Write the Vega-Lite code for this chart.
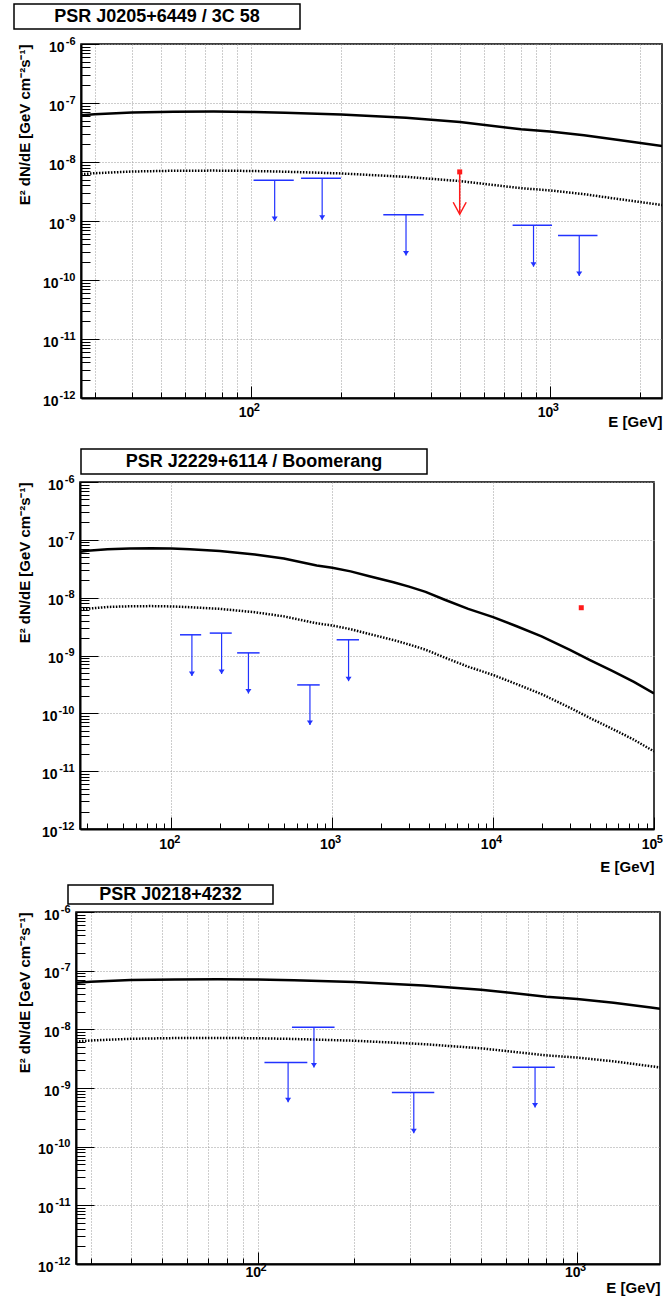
{
  "$schema": "https://vega.github.io/schema/vega-lite/v6.json",
  "padding": {"left": 13, "top": 3, "right": 0, "bottom": 0},
  "background": "white",
  "config": {
    "font": "Liberation Sans",
    "axis": {
      "labelFont": "Liberation Sans", "titleFont": "Liberation Sans",
      "labelFontSize": 14, "labelFontWeight": "bold", "labelColor": "black",
      "titleFontSize": 15, "titleFontWeight": "bold", "titleColor": "black",
      "domainColor": "black", "domainWidth": 2,
      "tickColor": "black", "tickWidth": 1,
      "gridColor": "#9a9a9a", "gridDash": [1, 2], "gridWidth": 1,
      "labelOverlap": false, "labelFlush": false
    }
  },
  "datasets": {
    "curve": [
      {"E": 27, "F": 6.2e-8, "Fd": 6.2e-9},
      {"E": 30, "F": 6.45e-8, "Fd": 6.45e-9},
      {"E": 40, "F": 6.9e-8, "Fd": 6.9e-9},
      {"E": 55, "F": 7.1e-8, "Fd": 7.1e-9},
      {"E": 75, "F": 7.15e-8, "Fd": 7.15e-9},
      {"E": 100, "F": 7.05e-8, "Fd": 7.05e-9},
      {"E": 130, "F": 6.85e-8, "Fd": 6.85e-9},
      {"E": 200, "F": 6.4e-8, "Fd": 6.4e-9},
      {"E": 330, "F": 5.6e-8, "Fd": 5.6e-9},
      {"E": 500, "F": 4.75e-8, "Fd": 4.75e-9},
      {"E": 800, "F": 3.6e-8, "Fd": 3.6e-9},
      {"E": 1000, "F": 3.3e-8, "Fd": 3.3e-9},
      {"E": 1300, "F": 2.85e-8, "Fd": 2.85e-9},
      {"E": 1700, "F": 2.35e-8, "Fd": 2.35e-9},
      {"E": 2400, "F": 1.85e-8, "Fd": 1.85e-9},
      {"E": 3000, "F": 1.55e-8, "Fd": 1.55e-9},
      {"E": 3800, "F": 1.26e-8, "Fd": 1.26e-9},
      {"E": 5000, "F": 9.2e-9, "Fd": 9.2e-10},
      {"E": 7000, "F": 6.4e-9, "Fd": 6.4e-10},
      {"E": 10000, "F": 4.6e-9, "Fd": 4.6e-10},
      {"E": 14000, "F": 3.2e-9, "Fd": 3.2e-10},
      {"E": 20000, "F": 2.15e-9, "Fd": 2.15e-10},
      {"E": 30000, "F": 1.25e-9, "Fd": 1.25e-10},
      {"E": 40000, "F": 8.3e-10, "Fd": 8.3e-11},
      {"E": 55000, "F": 5.4e-10, "Fd": 5.4e-11},
      {"E": 75000, "F": 3.5e-10, "Fd": 3.5e-11},
      {"E": 100000, "F": 2.2e-10, "Fd": 2.2e-11}
    ],
    "ul": [
      {"panel": 1, "E": 120, "lo": 102, "hi": 139, "ul": 4.9e-9, "tip": 1.0e-9},
      {"panel": 1, "E": 173, "lo": 147, "hi": 200, "ul": 5.3e-9, "tip": 1.05e-9},
      {"panel": 1, "E": 330, "lo": 277, "hi": 378, "ul": 1.28e-9, "tip": 2.6e-10},
      {"panel": 1, "E": 881, "lo": 750, "hi": 1016, "ul": 8.45e-10, "tip": 1.68e-10},
      {"panel": 1, "E": 1253, "lo": 1064, "hi": 1442, "ul": 5.7e-10, "tip": 1.17e-10},
      {"panel": 2, "E": 134, "lo": 113, "hi": 153, "ul": 2.28e-9, "tip": 4.4e-10},
      {"panel": 2, "E": 205, "lo": 173, "hi": 237, "ul": 2.44e-9, "tip": 4.8e-10},
      {"panel": 2, "E": 301, "lo": 256, "hi": 353, "ul": 1.11e-9, "tip": 2.2e-10},
      {"panel": 2, "E": 726, "lo": 605, "hi": 835, "ul": 3.1e-10, "tip": 6.3e-11},
      {"panel": 2, "E": 1262, "lo": 1064, "hi": 1466, "ul": 1.87e-9, "tip": 3.6e-10},
      {"panel": 3, "E": 124.5, "lo": 105, "hi": 143, "ul": 2.72e-9, "tip": 5.7e-10},
      {"panel": 3, "E": 150, "lo": 128, "hi": 174, "ul": 1.09e-8, "tip": 2.24e-9},
      {"panel": 3, "E": 308, "lo": 263, "hi": 357, "ul": 8.4e-10, "tip": 1.7e-10},
      {"panel": 3, "E": 738, "lo": 627, "hi": 851, "ul": 2.26e-9, "tip": 4.65e-10}
    ],
    "red": [
      {"panel": 1, "E": 499, "F": 6.8e-9, "tip": 1.3e-9},
      {"panel": 2, "E": 35300, "F": 6.7e-9, "tip": null}
    ]
  },
  "vconcat": [
    {
      "vconcat": [
        {
          "vconcat": [
            {
              "width": 286, "height": 25,
              "view": {"stroke": "black", "strokeWidth": 1.5},
              "data": {"values": [{"t": "PSR J0205+6449 / 3C 58"}]},
              "mark": {"type": "text", "font": "Liberation Sans", "fontWeight": "bold", "fontSize": 18, "color": "black"},
              "encoding": {"text": {"field": "t"}}
            },
            {
              "hconcat": [
                {"width": 1, "height": 10, "view": {"stroke": "white", "fill": "white"}, "data": {"values": []}, "mark": "text", "encoding": {}},
                {
                  "width": 581, "height": 354,
                  "view": {"stroke": "black", "strokeWidth": 1.5},
                  "resolve": {"axis": {"x": "independent", "y": "independent"}},
                  "layer": [
                    {
                      "data": {"name": "curve"},
                      "mark": {"type": "line", "color": "black", "strokeWidth": 2.5, "clip": true},
                      "encoding": {
                        "x": {"field": "E", "type": "quantitative",
                          "scale": {"type": "log", "domain": [27, 2370], "nice": false},
                          "axis": {
                            "orient": "bottom", "title": "E [GeV]",
                            "values": [30,40,50,60,70,80,90,100,200,300,400,500,600,700,800,900,1000,2000],
                            "labelExpr": "datum.value == 100 || datum.value == 1000 ? '10' : ''",
                            "tickSize": {"condition": {"test": "datum.value == 100 || datum.value == 1000", "value": -12}, "value": -6},
                            "grid": true, "labelPadding": 26.5, "labelBaseline": "middle", "labelOffset": -5,
                            "titleAnchor": "end", "titlePadding": -11
                          }},
                        "y": {"field": "F", "type": "quantitative",
                          "scale": {"type": "log", "domain": [1e-12, 1e-6], "nice": false},
                          "axis": {
                            "orient": "left", "title": "E² dN/dE [GeV cm⁻²s⁻¹]",
                            "values": [1e-12,2e-12,3e-12,4e-12,5e-12,6e-12,7e-12,8e-12,9e-12,1e-11,2e-11,3e-11,4e-11,5e-11,6e-11,7e-11,8e-11,9e-11,1e-10,2e-10,3e-10,4e-10,5e-10,6e-10,7e-10,8e-10,9e-10,1e-9,2e-9,3e-9,4e-9,5e-9,6e-9,7e-9,8e-9,9e-9,1e-8,2e-8,3e-8,4e-8,5e-8,6e-8,7e-8,8e-8,9e-8,1e-7,2e-7,3e-7,4e-7,5e-7,6e-7,7e-7,8e-7,9e-7,1e-6],
                            "labelExpr": "datum.value == 1e-6 || datum.value == 1e-7 || datum.value == 1e-8 || datum.value == 1e-9 || datum.value == 1e-10 || datum.value == 1e-11 || datum.value == 1e-12 ? '10' : ''",
                            "tickSize": {"condition": {"test": "datum.value == 1e-6 || datum.value == 1e-7 || datum.value == 1e-8 || datum.value == 1e-9 || datum.value == 1e-10 || datum.value == 1e-11 || datum.value == 1e-12", "value": -18}, "value": -9},
                            "grid": true,
                            "gridOpacity": {"condition": {"test": "datum.value == 1e-6 || datum.value == 1e-7 || datum.value == 1e-8 || datum.value == 1e-9 || datum.value == 1e-10 || datum.value == 1e-11 || datum.value == 1e-12", "value": 1}, "value": 0},
                            "labelPadding": {"condition": {"test": "datum.value < 1.5e-10", "value": 41}, "value": 35},
                            "labelOffset": 3, "labelBaseline": "middle",
                            "titleAnchor": "end", "titlePadding": 10
                          }}
                      }
                    },
                    {
                      "data": {"name": "curve"},
                      "mark": {"type": "line", "color": "black", "strokeWidth": 2.5, "strokeDash": [1.5, 1.5], "clip": true},
                      "encoding": {
                        "x": {"field": "E", "type": "quantitative",
                          "axis": {"orient": "bottom", "title": null, "values": [100, 1000],
                            "labelExpr": "datum.value == 100 ? '2' : '3'",
                            "ticks": false, "domain": false, "grid": false,
                            "labelFontSize": 11, "labelAlign": "left", "labelOffset": 2.3, "labelPadding": 9.4, "labelBaseline": "middle"}},
                        "y": {"field": "Fd", "type": "quantitative",
                          "axis": {"orient": "left", "title": null, "values": [1e-12,1e-11,1e-10,1e-9,1e-8,1e-7,1e-6],
                            "labelExpr": "datum.value == 1e-6 ? '-6' : datum.value == 1e-7 ? '-7' : datum.value == 1e-8 ? '-8' : datum.value == 1e-9 ? '-9' : datum.value == 1e-10 ? '-10' : datum.value == 1e-11 ? '-11' : '-12'",
                            "ticks": false, "domain": false, "grid": false,
                            "labelFontSize": 11, "labelAlign": "right", "labelOffset": -3, "labelPadding": 6, "labelBaseline": "middle"}}
                      }
                    },
                    {
                      "data": {"name": "ul"},
                      "transform": [{"filter": "datum.panel == 1"}],
                      "mark": {"type": "rule", "color": "#2233ff", "strokeWidth": 1.5},
                      "encoding": {
                        "x": {"field": "lo", "type": "quantitative", "axis": null},
                        "x2": {"field": "hi"},
                        "y": {"field": "ul", "type": "quantitative", "axis": null}
                      }
                    },
                    {
                      "data": {"name": "ul"},
                      "transform": [{"filter": "datum.panel == 1"}],
                      "mark": {"type": "rule", "color": "#2233ff", "strokeWidth": 1.2},
                      "encoding": {
                        "x": {"field": "E", "type": "quantitative", "axis": null},
                        "y": {"field": "ul", "type": "quantitative", "axis": null},
                        "y2": {"field": "tip"}
                      }
                    },
                    {
                      "data": {"name": "ul"},
                      "transform": [{"filter": "datum.panel == 1"}],
                      "mark": {"type": "point", "shape": "M-1,-1.5L1,-1.5L0,0Z", "filled": true, "color": "#2233ff", "size": 36, "opacity": 1},
                      "encoding": {
                        "x": {"field": "E", "type": "quantitative", "axis": null},
                        "y": {"field": "tip", "type": "quantitative", "axis": null}
                      }
                    },
                    {
                      "data": {"name": "red"},
                      "transform": [{"filter": "datum.panel == 1"}],
                      "mark": {"type": "rule", "color": "#ff1a1a", "strokeWidth": 1.5},
                      "encoding": {
                        "x": {"field": "E", "type": "quantitative", "axis": null},
                        "y": {"field": "F", "type": "quantitative", "axis": null},
                        "y2": {"field": "tip"}
                      }
                    },
                    {
                      "data": {"name": "red"},
                      "transform": [{"filter": "datum.panel == 1"}],
                      "mark": {"type": "point", "shape": "M-1,-1.85L0,0L1,-1.85", "filled": false, "color": "#ff1a1a", "strokeWidth": 1.5, "size": 169, "opacity": 1},
                      "encoding": {
                        "x": {"field": "E", "type": "quantitative", "axis": null},
                        "y": {"field": "tip", "type": "quantitative", "axis": null}
                      }
                    },
                    {
                      "data": {"name": "red"},
                      "transform": [{"filter": "datum.panel == 1"}],
                      "mark": {"type": "point", "shape": "square", "filled": true, "color": "#ff1a1a", "size": 25, "opacity": 1},
                      "encoding": {
                        "x": {"field": "E", "type": "quantitative", "axis": null},
                        "y": {"field": "F", "type": "quantitative", "axis": null}
                      }
                    }
                  ]
                }
              ],
              "spacing": 0
            }
          ],
          "spacing": 4
        },
        {
          "vconcat": [
            {
              "hconcat": [
                {"width": 65, "height": 25, "view": {"stroke": "white", "fill": "white"}, "data": {"values": []}, "mark": "text", "encoding": {}},
                {
                  "width": 346, "height": 25,
                  "view": {"stroke": "black", "strokeWidth": 1.5},
                  "data": {"values": [{"t": "PSR J2229+6114 / Boomerang"}]},
                  "mark": {"type": "text", "font": "Liberation Sans", "fontWeight": "bold", "fontSize": 18, "color": "black"},
                  "encoding": {"text": {"field": "t"}}
                }
              ],
              "spacing": 0
            },
            {
              "hconcat": [
                {"width": 1, "height": 10, "view": {"stroke": "white", "fill": "white"}, "data": {"values": []}, "mark": "text", "encoding": {}},
                {
                  "width": 574, "height": 347,
                  "view": {"stroke": "black", "strokeWidth": 1.5},
                  "resolve": {"axis": {"x": "independent", "y": "independent"}},
                  "layer": [
                    {
                      "data": {"name": "curve"},
                      "mark": {"type": "line", "color": "black", "strokeWidth": 2.5, "clip": true},
                      "encoding": {
                        "x": {"field": "E", "type": "quantitative",
                          "scale": {"type": "log", "domain": [27, 100000], "nice": false},
                          "axis": {
                            "orient": "bottom", "title": "E [GeV]",
                            "values": [30,40,50,60,70,80,90,100,200,300,400,500,600,700,800,900,1000,2000,3000,4000,5000,6000,7000,8000,9000,10000,20000,30000,40000,50000,60000,70000,80000,90000,100000],
                            "labelExpr": "datum.value == 100 || datum.value == 1000 || datum.value == 10000 || datum.value == 100000 ? '10' : ''",
                            "tickSize": {"condition": {"test": "datum.value == 100 || datum.value == 1000 || datum.value == 10000 || datum.value == 100000", "value": -12}, "value": -6},
                            "grid": true,
                            "gridOpacity": {"condition": {"test": "datum.value == 100 || datum.value == 1000 || datum.value == 10000", "value": 1}, "value": 0},
                            "labelPadding": 27.5, "labelBaseline": "middle", "labelOffset": -5,
                            "titleAnchor": "end", "titlePadding": 2
                          }},
                        "y": {"field": "F", "type": "quantitative",
                          "scale": {"type": "log", "domain": [1e-12, 1e-6], "nice": false},
                          "axis": {
                            "orient": "left", "title": "E² dN/dE [GeV cm⁻²s⁻¹]",
                            "values": [1e-12,2e-12,3e-12,4e-12,5e-12,6e-12,7e-12,8e-12,9e-12,1e-11,2e-11,3e-11,4e-11,5e-11,6e-11,7e-11,8e-11,9e-11,1e-10,2e-10,3e-10,4e-10,5e-10,6e-10,7e-10,8e-10,9e-10,1e-9,2e-9,3e-9,4e-9,5e-9,6e-9,7e-9,8e-9,9e-9,1e-8,2e-8,3e-8,4e-8,5e-8,6e-8,7e-8,8e-8,9e-8,1e-7,2e-7,3e-7,4e-7,5e-7,6e-7,7e-7,8e-7,9e-7,1e-6],
                            "labelExpr": "datum.value == 1e-6 || datum.value == 1e-7 || datum.value == 1e-8 || datum.value == 1e-9 || datum.value == 1e-10 || datum.value == 1e-11 || datum.value == 1e-12 ? '10' : ''",
                            "tickSize": {"condition": {"test": "datum.value == 1e-6 || datum.value == 1e-7 || datum.value == 1e-8 || datum.value == 1e-9 || datum.value == 1e-10 || datum.value == 1e-11 || datum.value == 1e-12", "value": -18}, "value": -9},
                            "grid": true,
                            "gridOpacity": {"condition": {"test": "datum.value == 1e-6 || datum.value == 1e-7 || datum.value == 1e-8 || datum.value == 1e-9 || datum.value == 1e-10 || datum.value == 1e-11 || datum.value == 1e-12", "value": 1}, "value": 0},
                            "labelPadding": {"condition": {"test": "datum.value < 1.5e-10", "value": 41}, "value": 35},
                            "labelOffset": 3, "labelBaseline": "middle",
                            "titleAnchor": "end", "titlePadding": 9
                          }}
                      }
                    },
                    {
                      "data": {"name": "curve"},
                      "mark": {"type": "line", "color": "black", "strokeWidth": 2.5, "strokeDash": [1.5, 1.5], "clip": true},
                      "encoding": {
                        "x": {"field": "E", "type": "quantitative",
                          "axis": {"orient": "bottom", "title": null, "values": [100, 1000, 10000, 100000],
                            "labelExpr": "datum.value == 100 ? '2' : datum.value == 1000 ? '3' : datum.value == 10000 ? '4' : '5'",
                            "ticks": false, "domain": false, "grid": false,
                            "labelFontSize": 11, "labelAlign": "left", "labelOffset": 2.3, "labelPadding": 10.5, "labelBaseline": "middle"}},
                        "y": {"field": "Fd", "type": "quantitative",
                          "axis": {"orient": "left", "title": null, "values": [1e-12,1e-11,1e-10,1e-9,1e-8,1e-7,1e-6],
                            "labelExpr": "datum.value == 1e-6 ? '-6' : datum.value == 1e-7 ? '-7' : datum.value == 1e-8 ? '-8' : datum.value == 1e-9 ? '-9' : datum.value == 1e-10 ? '-10' : datum.value == 1e-11 ? '-11' : '-12'",
                            "ticks": false, "domain": false, "grid": false,
                            "labelFontSize": 11, "labelAlign": "right", "labelOffset": -3, "labelPadding": 6, "labelBaseline": "middle"}}
                      }
                    },
                    {
                      "data": {"name": "ul"},
                      "transform": [{"filter": "datum.panel == 2"}],
                      "mark": {"type": "rule", "color": "#2233ff", "strokeWidth": 1.5},
                      "encoding": {
                        "x": {"field": "lo", "type": "quantitative", "axis": null},
                        "x2": {"field": "hi"},
                        "y": {"field": "ul", "type": "quantitative", "axis": null}
                      }
                    },
                    {
                      "data": {"name": "ul"},
                      "transform": [{"filter": "datum.panel == 2"}],
                      "mark": {"type": "rule", "color": "#2233ff", "strokeWidth": 1.2},
                      "encoding": {
                        "x": {"field": "E", "type": "quantitative", "axis": null},
                        "y": {"field": "ul", "type": "quantitative", "axis": null},
                        "y2": {"field": "tip"}
                      }
                    },
                    {
                      "data": {"name": "ul"},
                      "transform": [{"filter": "datum.panel == 2"}],
                      "mark": {"type": "point", "shape": "M-1,-1.5L1,-1.5L0,0Z", "filled": true, "color": "#2233ff", "size": 36, "opacity": 1},
                      "encoding": {
                        "x": {"field": "E", "type": "quantitative", "axis": null},
                        "y": {"field": "tip", "type": "quantitative", "axis": null}
                      }
                    },
                    {
                      "data": {"name": "red"},
                      "transform": [{"filter": "datum.panel == 2"}],
                      "mark": {"type": "point", "shape": "square", "filled": true, "color": "#ff1a1a", "size": 25, "opacity": 1},
                      "encoding": {
                        "x": {"field": "E", "type": "quantitative", "axis": null},
                        "y": {"field": "F", "type": "quantitative", "axis": null}
                      }
                    }
                  ]
                }
              ],
              "spacing": 0
            }
          ],
          "spacing": -3
        }
      ],
      "spacing": 17
    },
    {
      "vconcat": [
        {
          "hconcat": [
            {"width": 52, "height": 19, "view": {"stroke": "white", "fill": "white"}, "data": {"values": []}, "mark": "text", "encoding": {}},
            {
              "width": 205, "height": 19,
              "view": {"stroke": "black", "strokeWidth": 1.5},
              "data": {"values": [{"t": "PSR J0218+4232"}]},
              "mark": {"type": "text", "font": "Liberation Sans", "fontWeight": "bold", "fontSize": 18, "color": "black"},
              "encoding": {"text": {"field": "t"}}
            }
          ],
          "spacing": 0
        },
        {
          "hconcat": [
            {"width": 1, "height": 10, "view": {"stroke": "white", "fill": "white"}, "data": {"values": []}, "mark": "text", "encoding": {}},
            {
              "width": 584, "height": 352,
              "view": {"stroke": "black", "strokeWidth": 1.5},
              "resolve": {"axis": {"x": "independent", "y": "independent"}},
              "layer": [
                {
                  "data": {"name": "curve"},
                  "mark": {"type": "line", "color": "black", "strokeWidth": 2.5, "clip": true},
                  "encoding": {
                    "x": {"field": "E", "type": "quantitative",
                      "scale": {"type": "log", "domain": [27, 1816], "nice": false},
                      "axis": {
                        "orient": "bottom", "title": "E [GeV]",
                        "values": [30,40,50,60,70,80,90,100,200,300,400,500,600,700,800,900,1000],
                        "labelExpr": "datum.value == 100 || datum.value == 1000 ? '10' : ''",
                        "tickSize": {"condition": {"test": "datum.value == 100 || datum.value == 1000", "value": -12}, "value": -6},
                        "grid": true, "labelPadding": 20, "labelBaseline": "middle", "labelOffset": -5,
                        "titleAnchor": "end", "titlePadding": -4.5
                      }},
                    "y": {"field": "F", "type": "quantitative",
                      "scale": {"type": "log", "domain": [1e-12, 1e-6], "nice": false},
                      "axis": {
                        "orient": "left", "title": "E² dN/dE [GeV cm⁻²s⁻¹]",
                        "values": [1e-12,2e-12,3e-12,4e-12,5e-12,6e-12,7e-12,8e-12,9e-12,1e-11,2e-11,3e-11,4e-11,5e-11,6e-11,7e-11,8e-11,9e-11,1e-10,2e-10,3e-10,4e-10,5e-10,6e-10,7e-10,8e-10,9e-10,1e-9,2e-9,3e-9,4e-9,5e-9,6e-9,7e-9,8e-9,9e-9,1e-8,2e-8,3e-8,4e-8,5e-8,6e-8,7e-8,8e-8,9e-8,1e-7,2e-7,3e-7,4e-7,5e-7,6e-7,7e-7,8e-7,9e-7,1e-6],
                        "labelExpr": "datum.value == 1e-6 || datum.value == 1e-7 || datum.value == 1e-8 || datum.value == 1e-9 || datum.value == 1e-10 || datum.value == 1e-11 || datum.value == 1e-12 ? '10' : ''",
                        "tickSize": {"condition": {"test": "datum.value == 1e-6 || datum.value == 1e-7 || datum.value == 1e-8 || datum.value == 1e-9 || datum.value == 1e-10 || datum.value == 1e-11 || datum.value == 1e-12", "value": -18}, "value": -9},
                        "grid": true,
                        "gridOpacity": {"condition": {"test": "datum.value == 1e-6 || datum.value == 1e-7 || datum.value == 1e-8 || datum.value == 1e-9 || datum.value == 1e-10 || datum.value == 1e-11 || datum.value == 1e-12", "value": 1}, "value": 0},
                        "labelPadding": {"condition": {"test": "datum.value < 1.5e-10", "value": 41}, "value": 35},
                        "labelOffset": 3, "labelBaseline": "middle",
                        "titleAnchor": "end", "titlePadding": 5
                      }}
                  }
                },
                {
                  "data": {"name": "curve"},
                  "mark": {"type": "line", "color": "black", "strokeWidth": 2.5, "strokeDash": [1.5, 1.5], "clip": true},
                  "encoding": {
                    "x": {"field": "E", "type": "quantitative",
                      "axis": {"orient": "bottom", "title": null, "values": [100, 1000],
                        "labelExpr": "datum.value == 100 ? '2' : '3'",
                        "ticks": false, "domain": false, "grid": false,
                        "labelFontSize": 11, "labelAlign": "left", "labelOffset": 2.3, "labelPadding": 3, "labelBaseline": "middle"}},
                    "y": {"field": "Fd", "type": "quantitative",
                      "axis": {"orient": "left", "title": null, "values": [1e-12,1e-11,1e-10,1e-9,1e-8,1e-7,1e-6],
                        "labelExpr": "datum.value == 1e-6 ? '-6' : datum.value == 1e-7 ? '-7' : datum.value == 1e-8 ? '-8' : datum.value == 1e-9 ? '-9' : datum.value == 1e-10 ? '-10' : datum.value == 1e-11 ? '-11' : '-12'",
                        "ticks": false, "domain": false, "grid": false,
                        "labelFontSize": 11, "labelAlign": "right", "labelOffset": -3, "labelPadding": 6, "labelBaseline": "middle"}}
                  }
                },
                {
                  "data": {"name": "ul"},
                  "transform": [{"filter": "datum.panel == 3"}],
                  "mark": {"type": "rule", "color": "#2233ff", "strokeWidth": 1.5},
                  "encoding": {
                    "x": {"field": "lo", "type": "quantitative", "axis": null},
                    "x2": {"field": "hi"},
                    "y": {"field": "ul", "type": "quantitative", "axis": null}
                  }
                },
                {
                  "data": {"name": "ul"},
                  "transform": [{"filter": "datum.panel == 3"}],
                  "mark": {"type": "rule", "color": "#2233ff", "strokeWidth": 1.2},
                  "encoding": {
                    "x": {"field": "E", "type": "quantitative", "axis": null},
                    "y": {"field": "ul", "type": "quantitative", "axis": null},
                    "y2": {"field": "tip"}
                  }
                },
                {
                  "data": {"name": "ul"},
                  "transform": [{"filter": "datum.panel == 3"}],
                  "mark": {"type": "point", "shape": "M-1,-1.5L1,-1.5L0,0Z", "filled": true, "color": "#2233ff", "size": 36, "opacity": 1},
                  "encoding": {
                    "x": {"field": "E", "type": "quantitative", "axis": null},
                    "y": {"field": "tip", "type": "quantitative", "axis": null}
                  }
                }
              ]
            }
          ],
          "spacing": 0
        }
      ],
      "spacing": -3
    }
  ],
  "spacing": 8
}
